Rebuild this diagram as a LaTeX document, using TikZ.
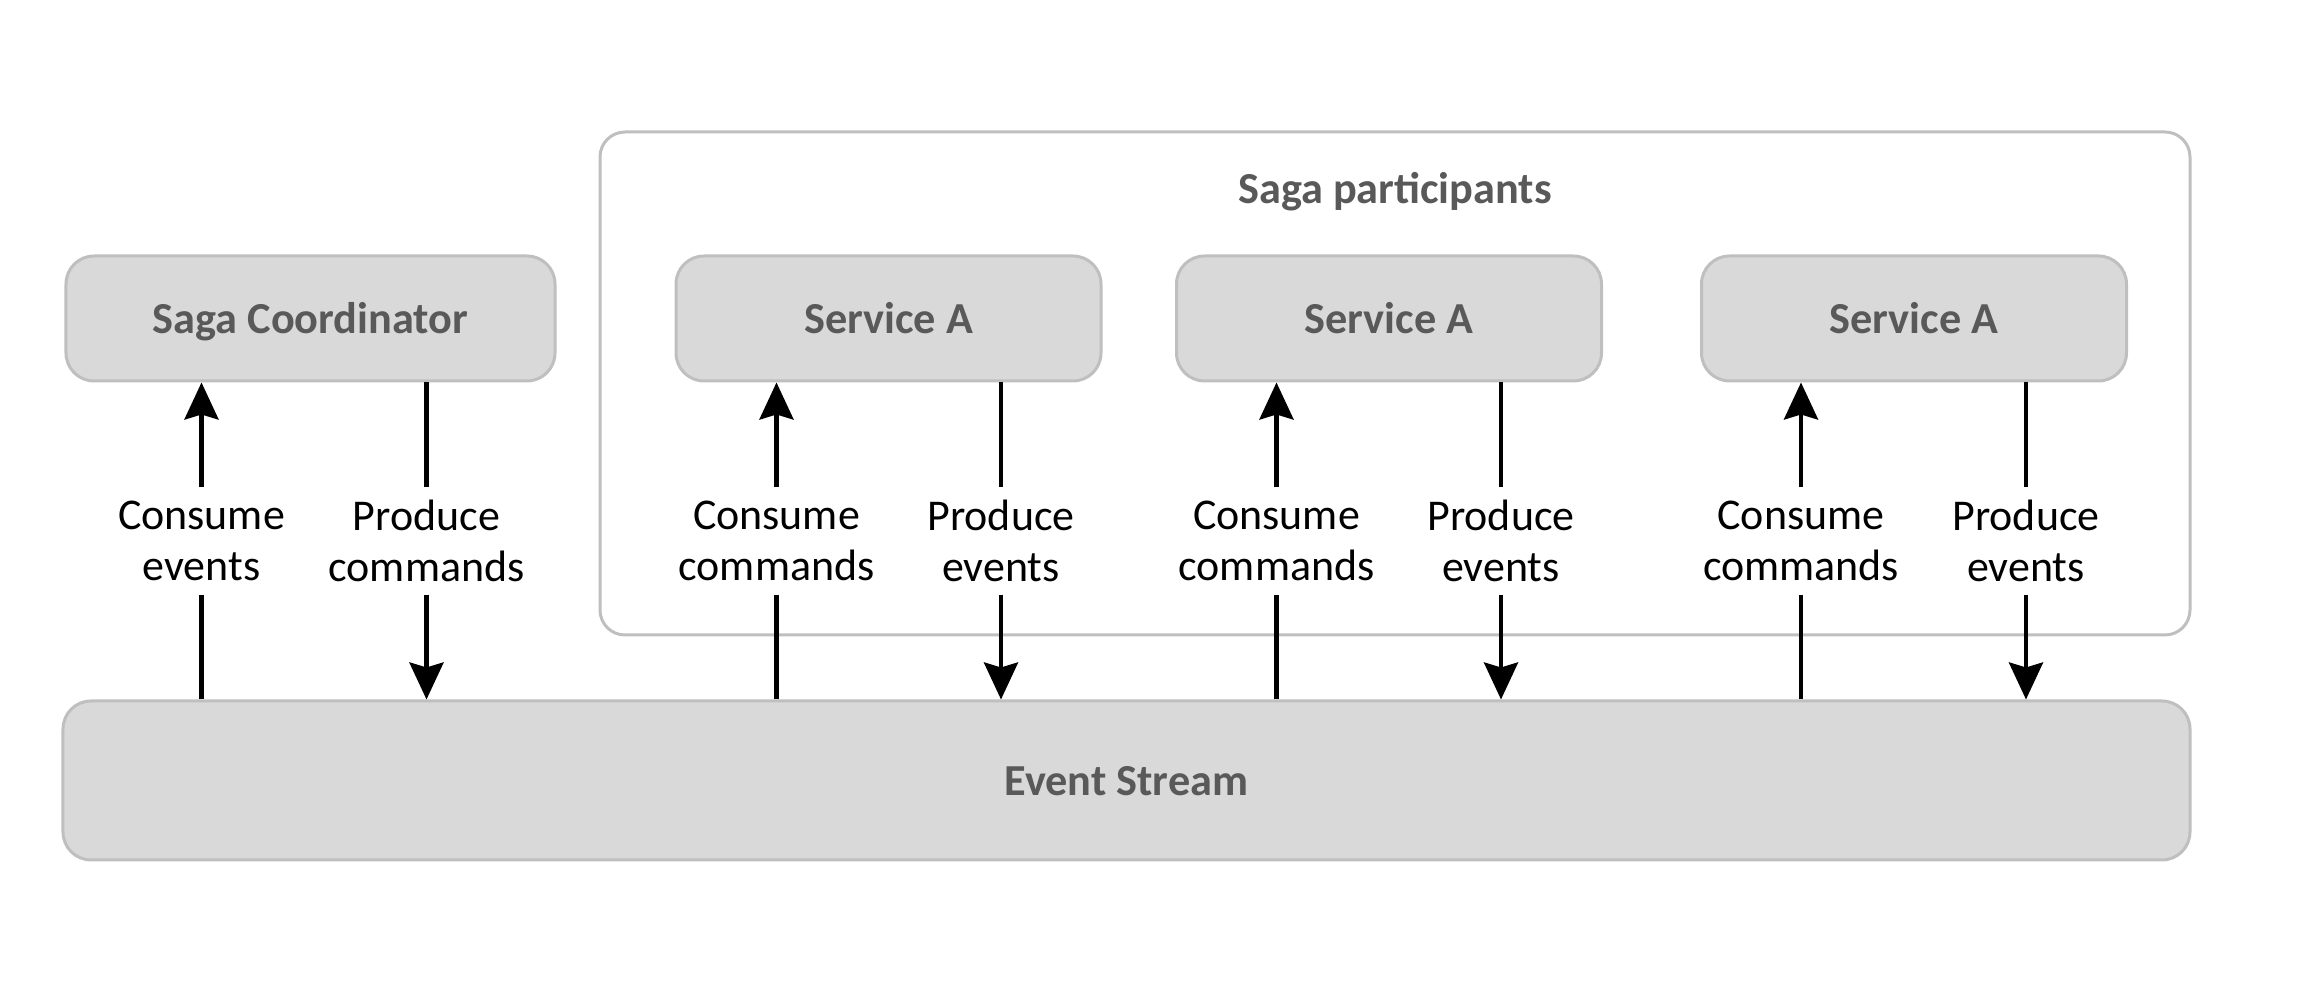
\documentclass[tikz,border=0pt]{standalone}
\usepackage{fontspec}
\setmainfont{Carlito}
\usepackage{xcolor}
\usepackage{tikz}
\usetikzlibrary{arrows.meta}

\definecolor{boxfill}{HTML}{D9D9D9}
\definecolor{boxline}{HTML}{BFBFBF}
\definecolor{boxtext}{HTML}{595959}

\begin{document}
\begin{tikzpicture}
		\tikzstyle{every node}+=[inner sep=0pt]
		\tikzstyle{box}=[draw=boxline, fill=boxfill, line width=0.03cm, rounded corners=0.28cm, text=boxtext, font=\fontsize{12.6}{14.6}\selectfont\bfseries, text height=1.0em, text depth=0.16em]
		\tikzstyle{label}=[align=center, minimum height=1.06cm, font=\fontsize{12.5}{14.6}\selectfont]
		\tikzstyle{flow}=[line width=0.043cm, -{Stealth[length=0.37cm, width=0.34cm, inset=0.05cm]}]
		\tikzstyle{line}=[line width=0.043cm]
		\useasboundingbox (0,0) rectangle (23.02,9.90);
		\node [draw=boxline, line width=0.03cm, rounded corners=0.25cm, minimum width=15.90cm, minimum height=5.03cm] (group) at (13.95,6.065) {};
		\node [text=boxtext, font=\fontsize{12.6}{14.6}\selectfont\bfseries] (grouptitle) at (13.95,7.98) {Saga participants};
		\node [box, minimum width=4.89cm, minimum height=1.25cm] (coord) at (3.105,6.715) {Saga Coordinator};
		\node [box, minimum width=4.25cm, minimum height=1.25cm] (svcA) at (8.885,6.715) {Service A};
		\node [box, minimum width=4.25cm, minimum height=1.25cm] (svcB) at (13.89,6.715) {Service A};
		\node [box, minimum width=4.25cm, minimum height=1.25cm] (svcC) at (19.14,6.715) {Service A};
		\node [box, minimum width=21.27cm, minimum height=1.59cm] (stream) at (11.265,2.095) {Event Stream};
		\node [label] (coordin) at (2.015,4.49) {Consume\\events};
		\node [label] (coordout) at (4.265,4.49) {Produce\\commands};
		\node [label] (svcAin) at (7.765,4.49) {Consume\\commands};
		\node [label] (svcAout) at (10.01,4.49) {Produce\\events};
		\node [label] (svcBin) at (12.765,4.49) {Consume\\commands};
		\node [label] (svcBout) at (15.01,4.49) {Produce\\events};
		\node [label] (svcCin) at (18.01,4.49) {Consume\\commands};
		\node [label] (svcCout) at (20.26,4.49) {Produce\\events};
		\draw [line] (coordin.south |- stream.north) -- (coordin.south);
		\draw [flow] (coordin.north) -- (coordin.north |- coord.south);
		\draw [line] (coordout.north |- coord.south) -- (coordout.north);
		\draw [flow] (coordout.south) -- (coordout.south |- stream.north);
		\draw [line] (svcAin.south |- stream.north) -- (svcAin.south);
		\draw [flow] (svcAin.north) -- (svcAin.north |- svcA.south);
		\draw [line] (svcAout.north |- svcA.south) -- (svcAout.north);
		\draw [flow] (svcAout.south) -- (svcAout.south |- stream.north);
		\draw [line] (svcBin.south |- stream.north) -- (svcBin.south);
		\draw [flow] (svcBin.north) -- (svcBin.north |- svcB.south);
		\draw [line] (svcBout.north |- svcB.south) -- (svcBout.north);
		\draw [flow] (svcBout.south) -- (svcBout.south |- stream.north);
		\draw [line] (svcCin.south |- stream.north) -- (svcCin.south);
		\draw [flow] (svcCin.north) -- (svcCin.north |- svcC.south);
		\draw [line] (svcCout.north |- svcC.south) -- (svcCout.north);
		\draw [flow] (svcCout.south) -- (svcCout.south |- stream.north);
\end{tikzpicture}
\end{document}
